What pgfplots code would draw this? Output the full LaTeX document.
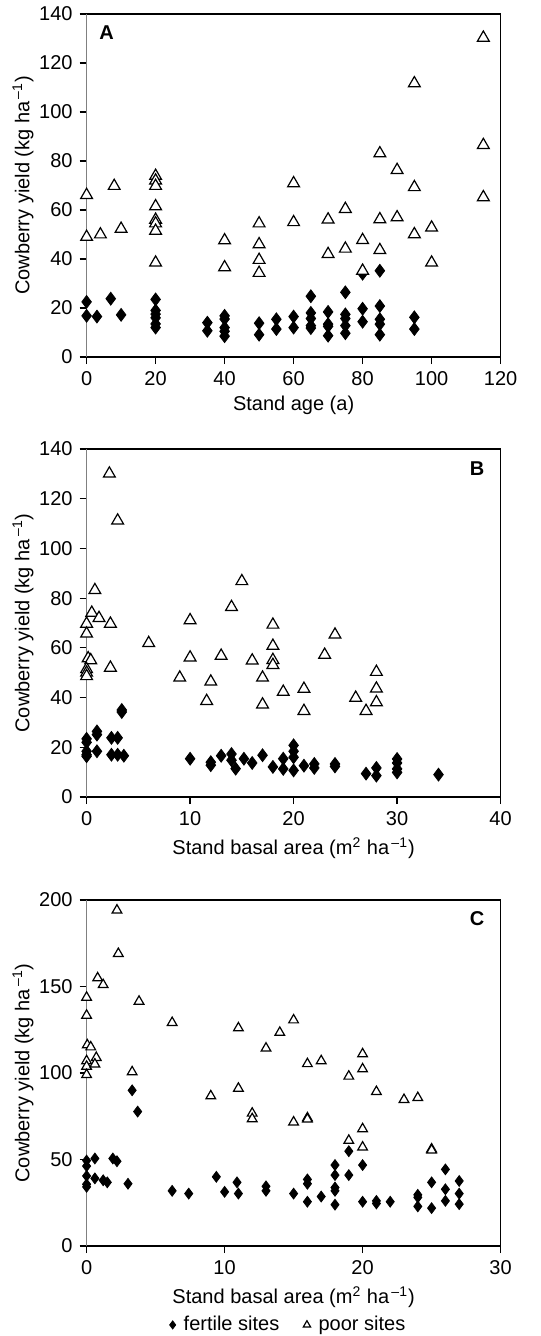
\documentclass[border=0pt]{standalone}
\usepackage{fontspec}
\setmainfont{Liberation Sans}
\usepackage{pgfplots}
\pgfplotsset{compat=1.18}
\begin{document}
\fontsize{10}{12}\selectfont
\begin{tikzpicture}[x=1pt,y=1pt]
\path[use as bounding box] (0,0) rectangle (270,-668);
\pgfplotsset{
  every axis/.append style={
    scale only axis, width=207pt, clip=false,
    axis line style={black, line width=0.6pt},
    tick style={black, line width=0.6pt},
    tick align=outside, tick pos=left, major tick length=3.5pt,
    /pgf/number format/assume math mode=true,
    tick label style={font=\fontsize{10}{12}\selectfont},
    label style={font=\fontsize{10}{12}\selectfont},
    ylabel={Cowberry yield (kg ha\textsuperscript{\,–1})},
    ylabel style={at={(axis description cs:-0.1536,0.5)}, anchor=center},
  },
  fertile/.style={only marks, mark=diamond*, mark size=3.2pt, black},
  poor/.style={only marks, mark=triangle*, mark size=3.4pt, black, mark options={fill=white, line width=0.6pt}},
}
% Panel A
\begin{axis}[at={(43.3pt,-178.5pt)}, anchor=south west, height=171.5pt,
  xmin=0, xmax=120, ymin=0, ymax=140,
  xtick={0,20,...,120}, ytick={0,20,...,140},
  xlabel={Stand age (a)},
  xlabel style={at={(axis description cs:0.5,0)}, anchor=center, yshift=-24pt}]
\addplot[fertile] coordinates {
(0,22.5) (0,16.8) (3,16.5) (7,23.8) (10,17.2)
(20,23.5) (20,19) (20,17.5) (20,16) (20,13.5) (20,12)
(35,14) (35,10.7)
(40,16.8) (40,15.5) (40,12) (40,10.5) (40,8.5)
(50,13.8) (50,9.1) (55,15.4) (55,11.4) (60,16.5) (60,12)
(65,24.8) (65,18) (65,15.7) (65,12.8) (65,11.8)
(70,18.4) (70,13.4) (70,12.5) (70,8.7)
(75,26.4) (75,17.4) (75,15.7) (75,12.8) (75,9.7)
(80,34) (80,19.7) (80,14.4)
(85,35.2) (85,20.8) (85,15.4) (85,13.4) (85,9.1)
(95,16.2) (95,11.4)
};
\addplot[poor] coordinates {
(115,130.3) (95,111.7) (115,86.5) (85,83.1) (90,76.3) (95,69.3) (115,65.2) (60,70.9)
(20,73.9) (20,72) (20,69.8) (8,69.8) (0,66.1)
(20,61.5) (20,56) (20,54.5) (20,51.5) (20,38.5)
(0,49) (4,50) (10,52.3)
(40,47.6) (40,36.6)
(50,54.5) (50,46) (50,39.6) (50,34.3)
(60,55) (70,56.1) (70,42) (75,60.4) (75,44.2)
(80,47.7) (80,35.2) (85,56.2) (85,43.6) (90,57) (95,50.1)
(100,52.8) (100,38.5)
};
\draw[black!50, line width=0.6pt] (rel axis cs:0,0) -- (rel axis cs:0,1);
\node[font=\bfseries\fontsize{10}{12}\selectfont] at (rel axis cs:0.048,0.947) {A};
\end{axis}
% Panel B
\begin{axis}[at={(43.3pt,-398.5pt)}, anchor=south west, height=174pt,
  xmin=0, xmax=40, ymin=0, ymax=140,
  xtick={0,10,...,40}, ytick={0,20,...,140},
  xlabel={Stand basal area (m\textsuperscript{2} ha\textsuperscript{\,–1})},
  xlabel style={at={(axis description cs:0.5,0)}, anchor=center, yshift=-25.5pt}]
\addplot[fertile] coordinates {
(0,23.4) (0,22) (0,18.4) (0,17) (0,16.4)
(1,26.4) (1,25.1) (1,18.4)
(2.4,23.8) (2.4,17) (3,23.8) (3,17) (3.6,16.6)
(3.4,34.2) (3.4,35)
(10,15.4) (12,14) (12,12.8) (13,16.6) (14,17.3) (14,14.8) (14.4,11.4)
(15.2,15.4) (16,13.7) (17,16.8) (18,12.1) (19,15.4) (19,11.3)
(20,20.8) (20,18.4) (20,16) (20,10.7) (21,12.6) (22,13.3) (22,11.7)
(24,13.3) (24,12.3) (27,9.4) (28,11.7) (28,8.6)
(30,15.3) (30,13.7) (30,11.3) (30,9.9) (34,9)
};
\addplot[poor] coordinates {
(2.2,130.1) (3,111.2) (0.8,83.2) (0.5,74.1) (1.2,72) (0,69.7) (2.3,69.7) (0,65.7)
(0.15,55.8) (0.4,55) (0,51.4) (0,50) (0,48.6) (2.3,52) (6,61.9) (9,48)
(10,71.1) (10,56.1) (11.6,38.6) (12,46.4) (13,56.8) (14,76.4) (15,86.8)
(16,54.9) (17,48) (17,37.2) (18,69.3) (18,60.8) (18,55.1) (18,53.1)
(19,42.3) (21,43.5) (21,34.6) (23,57.2) (24,65.3) (26,39.9) (27,34.6)
(28,50.3) (28,43.6) (28,38.1)
};
\draw[black!50, line width=0.6pt] (rel axis cs:0,0) -- (rel axis cs:0,1);
\node[font=\bfseries\fontsize{10}{12}\selectfont] at (rel axis cs:0.943,0.943) {B};
\end{axis}
% Panel C
\begin{axis}[at={(43.3pt,-623pt)}, anchor=south west, height=173pt,
  xmin=0, xmax=30, ymin=0, ymax=200,
  xtick={0,10,20,30}, ytick={0,50,...,200},
  xlabel={Stand basal area (m\textsuperscript{2} ha\textsuperscript{\,–1})},
  xlabel style={at={(axis description cs:0.5,0)}, anchor=center, yshift=-25.5pt},
  fertile/.append style={mark size=2.7pt},
  poor/.append style={mark size=2.8pt},
  legend columns=2,
  legend style={at={(rel axis cs:0.49,-0.228)}, anchor=center, draw=none, fill=none,
    font=\fontsize{10}{12}\selectfont,
    /tikz/column 1/.style={column sep=2pt},
    /tikz/column 2/.style={column sep=10pt},
    /tikz/column 3/.style={column sep=2pt}},
  legend image post style={scale=0.75}]
\addplot[fertile] coordinates {
(3.3,90) (3.7,77.7)
(0,49.4) (0,46.2) (0,40.5) (0,35.7) (0,34.2)
(0.6,50.6) (0.6,39.1) (1.2,38) (1.5,36.8) (1.9,50.6) (2.2,49) (3,36)
(6.2,31.9) (7.4,30.3) (9.4,40) (10,31.3) (10.9,36.8) (11,30.3)
(13,34.5) (13,31.9) (15,30.3) (16,38.5) (16,36) (16,25.6) (17,28.6)
(18,46.8) (18,41) (18,33.8) (18,31.9) (18,23.9) (19,54.8) (19,41)
(20,46.8) (20,25.6) (21,26.1) (21,24.6) (22,25.6)
(24,29.6) (24,28.1) (24,22.9) (25,36.8) (25,21.9)
(26,44.3) (26,32.8) (26,26.1) (27,37.6) (27,30.3) (27,24.2)
};
\addlegendentry{fertile sites}
\addplot[poor] coordinates {
(2.2,194.1) (2.3,169) (0.8,154.9) (1.2,151) (0,143.7) (0,133.3) (3.8,141.4) (6.2,129.1)
(0.05,116.2) (0.3,115) (0,107) (0,103.8) (0,99) (0.7,108.9) (0.6,105.1) (3.3,100.6)
(11,126) (14,123.4) (15,130.6) (13,114.3) (16,105.3) (17,107) (20,111) (20,102.3)
(19,98.1) (21,89.2) (23,84.6) (24,85.7) (9,86.7) (11,91.1)
(12,76.7) (12,73.5) (15,71.6) (16,74) (16,73.3) (20,67.7) (20,57.1) (19,61)
(25,56) (25,55.4)
};
\addlegendentry{poor sites}
\draw[black!50, line width=0.6pt] (rel axis cs:0,0) -- (rel axis cs:0,1);
\node[font=\bfseries\fontsize{10}{12}\selectfont] at (rel axis cs:0.943,0.945) {C};
\end{axis}
\end{tikzpicture}
\end{document}
